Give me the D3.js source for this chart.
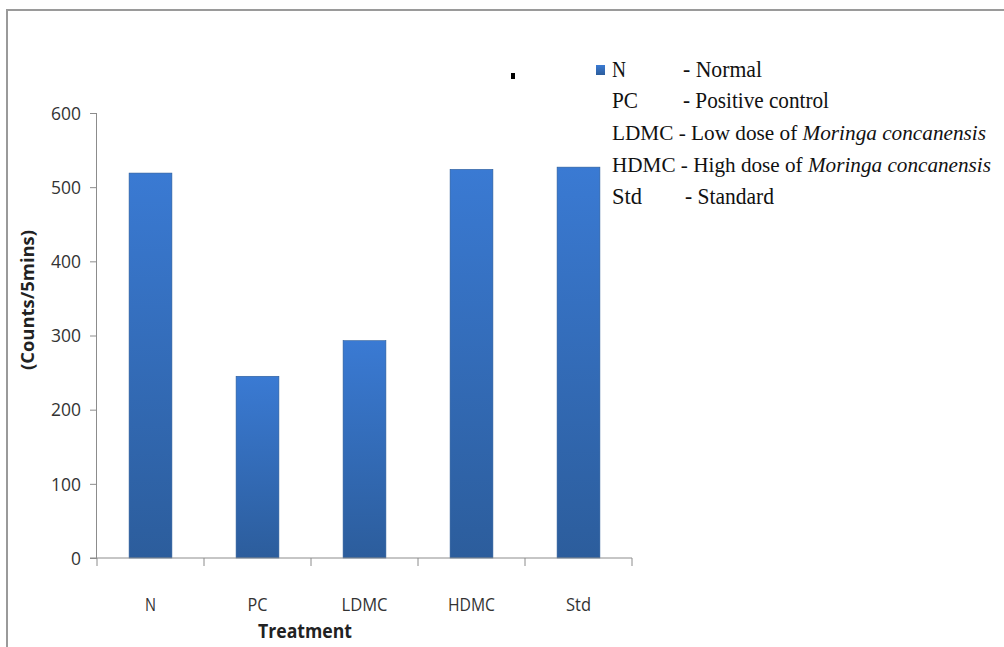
<!DOCTYPE html>
<html><head><meta charset="utf-8">
<script src="https://cdn.jsdelivr.net/npm/d3@7"></script>
<style>body{margin:0;background:#fff;}svg{display:block;}</style>
</head><body>
<svg id="c" width="1004" height="647"></svg>
<script>
const categories = ["N", "PC", "LDMC", "HDMC", "Std"];
const values = [519, 245, 293, 524, 527];
const yTicks = [0, 100, 200, 300, 400, 500, 600];
const legendAbbr = ["N", "PC", "LDMC", "HDMC", "Std"];
const legendDesc = ["- Normal", "- Positive control", "- Low dose of ", "- High dose of ", "- Standard"];
const legendItalic = ["", "", "Moringa concanensis", "Moringa concanensis", ""];

const svg = d3.select("#c");
const m = {left: 97, right: 632, top: 113, bottom: 558};

// frame
svg.append("line").attr("x1", 7).attr("x2", 1004).attr("y1", 10).attr("y2", 10).attr("stroke", "#9a9a9a").attr("stroke-width", 2);
svg.append("line").attr("x1", 7).attr("x2", 7).attr("y1", 9).attr("y2", 647).attr("stroke", "#9a9a9a").attr("stroke-width", 2);

const defs = svg.append("defs");
const g = defs.append("linearGradient").attr("id", "bg").attr("x1", 0).attr("y1", 0).attr("x2", 0).attr("y2", 1);
g.append("stop").attr("offset", "0%").attr("stop-color", "#3a7ad3");
g.append("stop").attr("offset", "100%").attr("stop-color", "#2c5d9c");

const x = d3.scaleBand().domain(categories).range([m.left, m.right]).paddingInner(0.6).paddingOuter(0.3);
const xTickScale = d3.scaleLinear().domain([0, categories.length]).range([m.left, m.right]);
const y = d3.scaleLinear().domain([0, 600]).range([m.bottom, m.top]);

// bars
svg.selectAll("rect.bar").data(values).enter().append("rect").attr("class", "bar")
  .attr("x", (d, i) => x(categories[i]))
  .attr("width", x.bandwidth())
  .attr("y", d => y(d))
  .attr("height", d => y(0) - y(d))
  .attr("fill", "url(#bg)")
  .attr("stroke", "#2a5a98").attr("stroke-width", 0.6);

// y axis
const yAxis = d3.axisLeft(y).tickValues(yTicks).tickSize(7).tickPadding(9);
const ya = svg.append("g").attr("transform", `translate(${m.left},0)`).call(yAxis);
ya.select(".domain").attr("stroke", "#8c8c8c").attr("d", `M-0.5,${m.top}V${m.bottom}`);
ya.selectAll(".tick line").attr("stroke", "#8c8c8c");
ya.selectAll(".tick text").attr("font-family", "'Open Sans', sans-serif").attr("font-size", 18).attr("fill", "#333")
  .attr("dy", "0.35em").attr("textLength", d => String(d).length * 10).attr("lengthAdjust", "spacingAndGlyphs");

// x axis with tick marks at band boundaries
svg.append("line").attr("x1", m.left - 7).attr("x2", m.right).attr("y1", m.bottom).attr("y2", m.bottom).attr("stroke", "#8c8c8c");
svg.selectAll("line.xt").data(d3.range(categories.length + 1)).enter().append("line").attr("class", "xt")
  .attr("x1", d => xTickScale(d)).attr("x2", d => xTickScale(d))
  .attr("y1", m.bottom).attr("y2", m.bottom + 8).attr("stroke", "#8c8c8c");
const xlw = {N: 11, PC: 20, LDMC: 46, HDMC: 47, Std: 25};
svg.selectAll("text.xl").data(categories).enter().append("text").attr("class", "xl")
  .attr("x", d => x(d) + x.bandwidth() / 2 - xlw[d] / 2).attr("y", 611)
  .attr("font-family", "'Open Sans', sans-serif").attr("font-size", 19).attr("fill", "#333")
  .attr("textLength", d => xlw[d]).attr("lengthAdjust", "spacingAndGlyphs")
  .text(d => d);

svg.append("text").attr("x", 258).attr("y", 638)
  .attr("font-family", "'Open Sans', sans-serif").attr("font-weight", "bold").attr("font-size", 19).attr("fill", "#222")
  .attr("textLength", 94).attr("lengthAdjust", "spacingAndGlyphs")
  .text("Treatment");
svg.append("text").attr("transform", "translate(34,370) rotate(-90)")
  .attr("font-family", "'Open Sans', sans-serif").attr("font-weight", "bold").attr("font-size", 18).attr("fill", "#222")
  .attr("textLength", 140).attr("lengthAdjust", "spacingAndGlyphs")
  .text("(Counts/5mins)");

// stray dot
svg.append("rect").attr("x", 511).attr("y", 73).attr("width", 4).attr("height", 6).attr("fill", "#000");

// legend
svg.append("rect").attr("x", 596).attr("y", 65).attr("width", 9).attr("height", 10).attr("fill", "url(#bg)");
const lg = svg.append("g").attr("font-family", "'Liberation Serif', 'Times New Roman', serif").attr("font-size", 23).attr("fill", "#111");
const baselines = [77, 108, 140, 172, 204];
legendAbbr.forEach((a, i) => {
  if (legendItalic[i]) {
    const t = lg.append("text").attr("x", 612).attr("y", baselines[i]).attr("font-size", 21);
    t.append("tspan").text(a + " " + legendDesc[i]);
    t.append("tspan").attr("font-style", "italic").text(legendItalic[i]);
    const target = (i === 2 ? 986 : 991) - 612;
    t.attr("textLength", target).attr("lengthAdjust", "spacingAndGlyphs");
  } else {
    const w0 = [14, 26, 0, 0, 30][i];
    lg.append("text").attr("x", 612).attr("y", baselines[i]).attr("textLength", w0).attr("lengthAdjust", "spacingAndGlyphs").text(a);
    const t2 = lg.append("text").attr("x", i === 4 ? 685 : 683).attr("y", baselines[i]).text(legendDesc[i]);
    const ends = [762, 829, 0, 0, 774];
    t2.attr("textLength", ends[i] - (i === 4 ? 685 : 683)).attr("lengthAdjust", "spacingAndGlyphs");
  }
});
</script>
</body></html>
